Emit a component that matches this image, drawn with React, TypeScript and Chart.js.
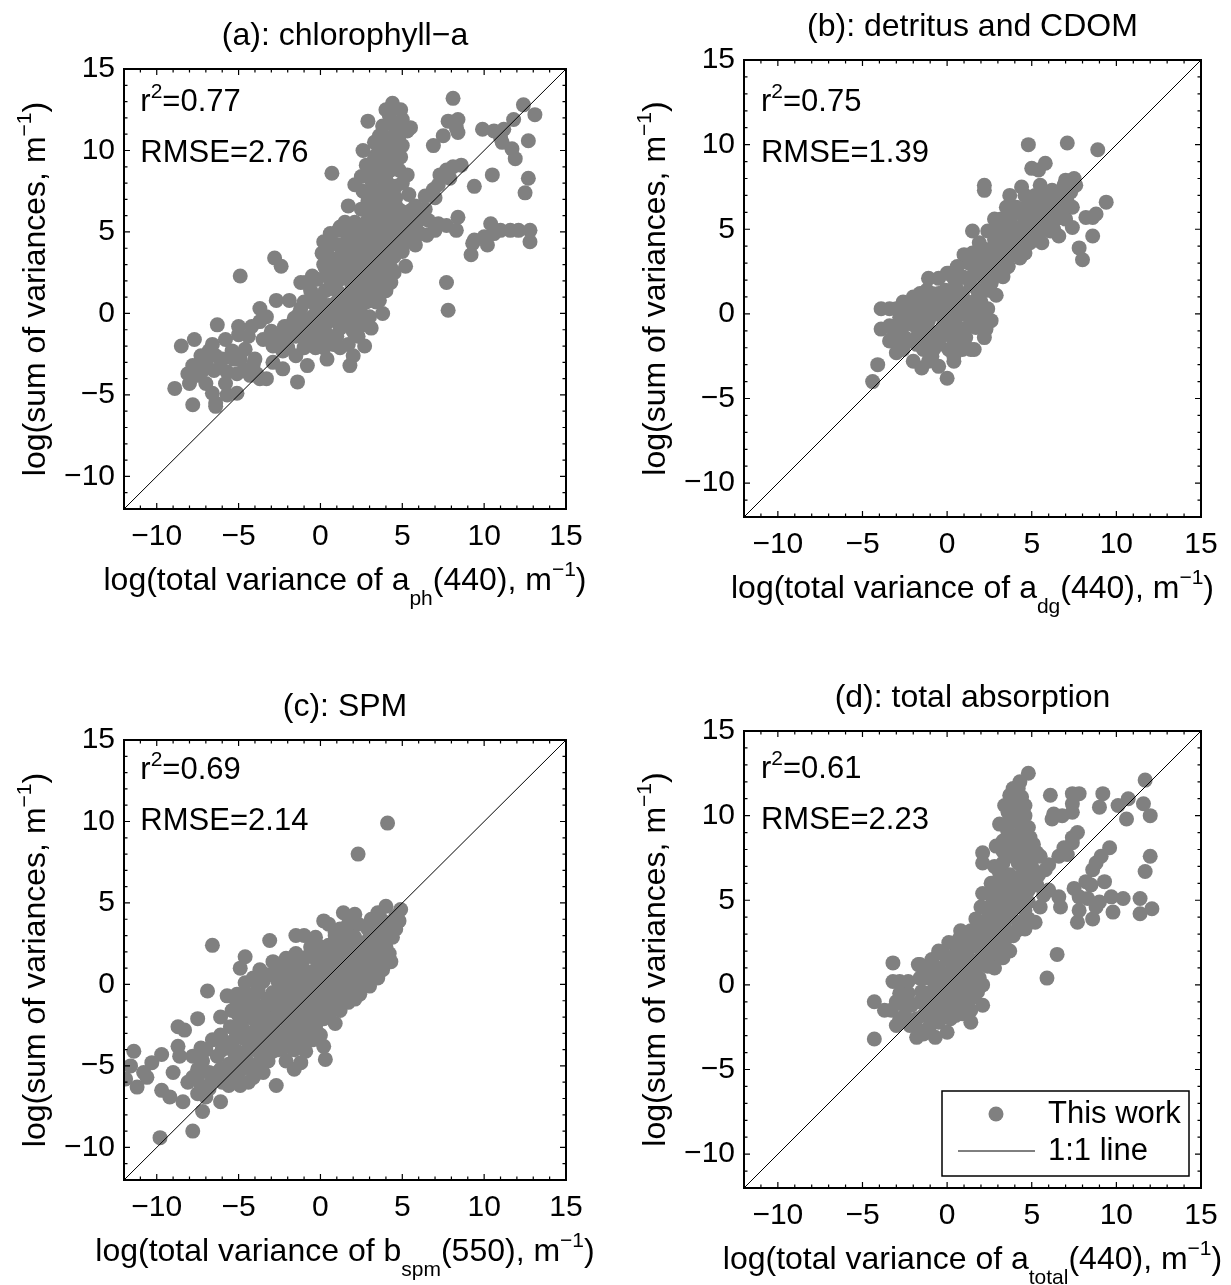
import React, { useEffect, useRef } from 'react';
import { Chart, registerables } from 'chart.js';

Chart.register(...registerables);

// ---------------- data ----------------
const AXIS_MIN = -12;
const AXIS_MAX = 15;
const TICK_VALUES = [-10, -5, 0, 5, 10, 15];
const IDENTITY_LINE: [number, number][] = [[-12, -12], [15, 15]];

const TITLES = ['(a): chlorophyll\u2212a', '(b): detritus and CDOM', '(c): SPM', '(d): total absorption'];
const R2_VALUES = ['0.77', '0.75', '0.69', '0.61'];
const RMSE_VALUES = ['2.76', '1.39', '2.14', '2.23'];
const X_SYMBOLS = ['a', 'a', 'b', 'a'];
const X_SUBSCRIPTS = ['ph', 'dg', 'spm', 'total'];
const X_WAVELENGTHS = ['440', '440', '550', '440'];
const SERIES_LABEL = 'This work';
const LINE_LABEL = '1:1 line';

const POINTS_A: [number, number][] = [
  [4.4,12.9],[4.9,12.5],[4.2,12.2],[4.3,11.7],[5.0,11.9],[5.5,11.4],[4.6,11.3],[3.6,10.9],[4.2,10.8],[4.8,10.9],[5.3,11.2],[2.9,11.8],[4.4,9.9],[2.6,10.0],[4.3,8.8],[4.8,8.8],[3.6,8.8],[3.1,9.0],[2.8,9.1],[3.8,8.3],[4.6,7.8],[5.0,8.0],[2.1,7.9],[3.1,7.6],[3.2,7.0],[3.9,6.8],[4.6,7.1],[0.7,8.6],[6.0,5.9],
  [8.1,13.2],[7.8,11.8],[8.4,11.9],[8.3,11.4],[8.4,11.1],[7.5,10.9],[6.9,10.3],[9.9,11.3],[10.6,11.2],[11.0,10.8],[11.2,11.3],[11.8,11.9],[12.4,12.8],[13.1,12.2],[12.7,10.6],[11.1,10.5],[11.7,10.1],[11.9,9.5],[10.5,8.5],[12.7,8.3],[12.5,7.4],[9.4,7.8],[8.6,9.1],[8.1,9.0],[7.7,8.8],[7.3,8.5],[7.9,8.3],[7.2,7.9],[6.9,7.6],[6.4,7.2],[7.0,7.1],[6.4,6.4],
  [8.4,5.9],[8.3,5.1],[7.7,5.4],[7.2,5.5],[10.4,5.5],[11.0,5.1],[11.6,5.1],[10.6,4.9],[10.0,4.7],[9.4,4.5],[9.3,4.3],[9.2,3.6],[10.2,4.2],[12.1,5.1],[12.8,5.1],[12.8,4.4],[7.7,1.9],[7.8,0.2],[6.5,4.8],[7.0,5.1],
  [-8.5,-2.0],[-8.9,-4.6],[-7.8,-3.2],[-8.1,-3.7],[-7.3,-2.6],[-6.8,-2.3],[-6.6,-1.9],[-6.4,-2.6],[-7.0,-3.1],[-7.5,-3.8],[-7.8,-5.6],[-6.6,-4.9],[-6.4,-5.5],[-6.4,-5.7],[-5.7,-5.0],[-5.1,-4.9],[-6.3,-0.7],[-6.1,-3.3],[-5.7,-3.6],[-5.4,-2.3],[-5.1,-3.7],[-4.9,-2.8],[-4.6,-2.2],[-4.3,-3.8],[-5.0,-0.8],[-5.0,-1.3],[-4.9,2.3],[-4.1,-3.1],[-3.9,-3.7],[-3.7,-4.0],[-3.3,-4.0],[-3.7,0.3],[-3.3,-0.2],[-3.7,-0.5],[-2.7,-1.6],[-2.9,-2.0],[-2.3,-3.4],[-2.9,-3.0],[-2.7,0.8],[-2.8,3.4],[-2.4,2.9],[-1.9,-1.4],[-1.4,-4.2],[-1.9,0.8],[-1.2,0.3],[-0.8,-3.2],[-1.0,-1.1],[-0.8,-1.6],[-1.2,1.9],[-0.9,1.9],[-0.5,2.3],[-0.3,1.0],[-0.4,0.6],[-0.5,-0.2],[-0.3,-0.9],[-0.3,-2.1],[0.2,-1.6],
  [0.2,4.4],[0.1,3.7],[0.8,4.3],[1.1,5.1],[0.2,3.0],[0.5,2.5],[0.9,3.3],[0.9,0.1],[0.8,-1.9],[0.6,-1.4],[1.2,-0.9],[1.7,-1.9],[1.8,-3.2],[2.7,-2.0],[1.9,0.4],[2.4,0.8],[3.0,-0.2],[3.1,-0.9],[3.8,0.0],[3.0,0.9],[3.6,1.5],[4.3,1.9],[4.0,2.7],[3.2,3.5],[1.7,6.6],[1.2,5.3],[4.6,4.1],[5.0,3.8],[5.3,4.7],[5.7,5.0],[6.1,4.9],[5.2,6.1],[5.8,6.6],[4.6,6.6],[4.1,5.6],[3.6,6.1],[2.5,6.4],[2.1,5.6],[2.6,4.7],[2.1,4.2],[1.7,3.5],[1.4,2.3],[1.9,1.8],[2.1,2.5],[2.9,2.7],[3.4,2.3],[2.6,2.0],[3.1,4.7],[3.6,5.1],[4.1,4.7],[4.3,3.5],[4.6,4.7],[1.7,4.7],[1.2,4.2],[1.4,1.0],[1.1,1.3],[0.5,1.5],[0.1,0.6],[0.5,-0.2],[0.0,-0.4],[1.4,-0.2],[2.1,-0.7],[2.0,-1.1],[3.6,0.8],[2.4,3.5],[3.6,4.2],[4.8,5.3],[3.1,5.6],[3.1,6.6],[4.2,7.3],[3.5,7.2],[1.4,5.1],[2.3,5.0],
  [2.0,3.0],[2.6,3.2],[3.0,3.8],[3.5,3.0],[4.0,3.2],[2.8,1.2],[3.3,1.8],[2.2,1.3],[1.0,2.0],[0.6,0.5],[-0.2,-1.2],[1.0,-0.5],[1.5,0.5],[2.5,-0.5],[4.5,2.5],[5.2,2.9],[4.8,6.0],[3.8,6.2],[2.8,5.3],[1.8,4.0],[3.9,4.0],[5.5,5.5],[4.4,5.0],[2.4,2.2],[1.4,3.0],[-1.6,-0.3],[-2.0,-0.8],[-2.3,-2.3],[-1.5,-2.6],[-4.4,-1.4],[-3.0,-1.1],[6.6,5.7],[5.8,4.2],[2.0,-2.6],[0.4,-2.8],
  [2.8,6.3],[3.5,6.3],[4.2,6.3],[4.9,6.3],[5.5,6.3],[1.5,5.6],[2.8,5.6],[3.3,5.6],[4.0,5.6],[4.6,5.6],[5.2,5.6],[5.9,5.6],[0.6,4.9],[1.8,4.9],[2.9,4.9],[3.4,4.9],[4.0,4.9],[4.9,4.9],[5.6,4.9],[0.6,4.2],[1.5,4.2],[2.6,4.2],[3.1,4.2],[4.3,4.2],[5.0,4.2],[0.5,3.5],[1.2,3.5],[2.0,3.5],[2.7,3.5],[3.8,3.5],[4.5,3.5],[0.3,2.8],[1.0,2.8],[1.7,2.8],[2.4,2.8],[3.5,2.8],[4.3,2.8],[-0.2,2.1],[0.6,2.1],[1.2,2.1],[2.8,2.1],[3.9,2.1],[-0.6,1.4],[0.3,1.4],[1.9,1.4],[2.4,1.4],[3.1,1.4],[4.0,1.4],[-1.0,0.7],[-0.4,0.7],[1.0,0.7],[1.6,0.7],[2.2,0.7],[2.8,0.7],[3.4,0.7],[-1.3,0.0],[-0.2,0.0],[0.4,0.0],[1.1,0.0],[1.9,0.0],[2.5,0.0],[-1.6,-0.7],[-0.9,-0.7],[-0.4,-0.7],[0.3,-0.7],[1.6,-0.7],[2.6,-0.7],[-2.4,-1.4],[-1.5,-1.4],[-0.1,-1.4],[1.0,-1.4],[2.3,-1.4],[-2.0,-2.1],[-1.0,-2.1],[0.2,-2.1],[1.2,-2.1],[2.6,7.5],[3.8,7.5],[4.4,7.5],[3.1,8.2],[4.0,8.2],[3.3,9.5],[4.0,9.5],
  [-4.0,-2.8],[-5.3,-2.8],[-6.0,-2.8],[-7.0,-2.8],[-4.7,-3.5],[-6.5,-3.5],[-7.2,-3.5],[-5.8,-4.3],[-8.0,-4.3],[-7.0,-4.3],[-3.5,-1.6],[-5.8,-1.6],[-7.7,-1.6],[-4.2,-0.8],[-2.2,-0.8],
  [3.3,10.5],[3.9,10.2],[4.5,10.3],[3.4,9.7],[4.9,9.6],[3.9,9.3],[4.5,9.2],[3.4,8.6],[2.5,8.4],[4.2,7.9],[3.7,7.6],[2.9,6.9],[5.4,7.3],[5.3,8.5],[4.0,12.5],[3.8,11.5],[5.0,10.3]
];

const POINTS_B: [number, number][] = [
  [4.8,10.0],[7.1,10.1],[8.9,9.7],[5.0,8.6],[5.4,8.5],[5.8,8.9],[2.2,7.6],[2.2,7.3],[4.4,7.5],[5.5,7.6],[3.7,7.0],[7.0,7.9],[7.5,8.0],[6.9,7.6],[7.6,7.6],[6.5,7.1],[6.1,6.6],[9.4,6.6],[8.8,5.9],[8.2,5.7],[8.6,5.7],[7.4,5.1],[8.6,4.6],[6.6,4.6],[7.8,3.9],[8.0,3.2],[6.0,5.9],[5.5,5.5],[5.1,5.8],[4.6,5.5],[4.2,5.1],[3.7,5.5],[3.2,5.6],[4.8,6.4],[5.3,6.6],[6.5,6.4],[6.9,6.2],[5.8,5.0],[5.1,4.7],[4.7,4.2],[4.3,3.3],[3.3,4.5],[2.8,4.4],[2.8,4.0],[2.3,3.8],[1.5,4.9],[2.5,3.1],[3.2,3.6],[3.7,4.0],[3.9,4.7],[3.3,2.2],[2.9,1.1],[2.3,1.4],[2.1,2.2],[1.3,3.0],[1.9,3.0],[1.6,2.4],[0.9,2.2],[0.1,2.4],[0.5,1.7],[0.9,1.2],[1.4,1.7],[1.7,0.8],[2.4,0.3],[2.2,-0.2],[1.7,-0.8],[1.3,-0.2],[0.9,-0.9],[0.5,-0.6],[0.7,-1.6],[1.4,-2.1],[2.3,-0.9],[2.2,-1.4],[1.6,-2.1],[0.4,-2.8],[0.4,-2.5],[0.0,-3.8],[-0.5,-3.1],[-0.9,-2.5],[-1.5,-3.2],[-0.9,-1.8],[-0.6,-1.1],[-0.2,-0.6],[0.0,-0.2],[0.2,0.3],[-0.2,0.8],[-0.5,1.2],[0.0,2.4],[-1.1,2.1],[-0.9,1.2],[-1.6,1.2],[-2.0,1.0],[-1.8,0.5],[-1.4,0.1],[-0.9,0.1],[-1.1,-0.4],[-1.6,-0.6],[-2.1,-0.6],[-1.1,-1.4],[-1.4,-2.1],[-1.8,-1.8],[-2.3,-1.6],[-2.8,-1.6],[-3.2,-1.4],[-3.4,-1.6],[-3.0,-2.3],[-2.8,-0.2],[-3.0,0.3],[-3.4,0.3],[-3.9,0.3],[-3.0,-0.8],[-3.9,-0.9],[-4.1,-3.0],[-4.4,-4.0],[-2.3,0.3],[-0.8,-1.4],[-0.5,-1.8],[0.6,-0.1],[0.9,0.3],[1.5,0.3],[2.7,2.2],[3.5,3.1],[2.9,2.6],[0.9,0.9],[0.5,0.8],[3.9,5.9],[4.4,6.2],[5.1,6.7],[5.7,7.0],[6.2,7.3],[6.6,6.7],[5.8,6.3],[7.1,6.6],[6.7,5.7],[6.0,5.5],[4.0,4.0],[4.6,3.6],[1.5,3.6],[2.3,2.4],
  [3.0,3.2],[3.6,2.8],[4.2,4.6],[2.6,1.8],[1.2,0.6],[0.2,-1.2],[-0.4,0.2],[1.8,1.4],[3.4,5.0],[6.3,5.0],[5.4,4.4],[4.9,5.2],[-1.2,-0.9],[1.0,-1.3],[2.6,-0.4],[2.0,3.4],[7.3,7.2],
  [4.6,7.0],[5.2,7.0],[6.0,7.0],[6.8,7.0],[3.5,6.3],[4.1,6.3],[5.6,6.3],[6.2,6.3],[7.4,6.3],[2.8,5.6],[4.9,5.6],[5.6,5.6],[6.4,5.6],[7.0,5.6],[2.4,4.9],[3.0,4.9],[4.4,4.9],[5.4,4.9],[6.1,4.9],[1.9,4.2],[3.6,4.2],[4.9,4.2],[5.6,4.2],[1.0,3.5],[2.6,3.5],[3.9,3.5],[4.3,3.5],[0.6,2.8],[2.2,2.8],[2.8,2.8],[3.6,2.8],[-0.5,2.1],[0.4,2.1],[1.2,2.1],[2.7,2.1],[-1.2,1.4],[-0.1,1.4],[0.5,1.4],[1.8,1.4],[2.5,1.4],[-2.6,0.7],[-1.2,0.7],[-0.5,0.7],[0.3,0.7],[1.2,0.7],[2.0,0.7],[-2.5,0.0],[-1.9,0.0],[-0.6,0.0],[0.6,0.0],[1.0,0.0],[1.9,0.0],[-3.4,-0.7],[-2.6,-0.7],[-1.9,-0.7],[-0.2,-0.7],[0.4,-0.7],[1.5,-0.7],[-2.5,-1.4],[-1.8,-1.4],[-0.4,-1.4],[0.3,-1.4],[1.1,-1.4],[-2.6,-2.1],[-0.8,-2.1],[0.1,-2.1],[0.9,-2.1],[-2.0,-2.8],[-1.1,-2.8]
];

const POINTS_C: [number, number][] = [
  [4.1,9.9],[2.3,8.0],[4.0,4.8],[4.9,4.6],[4.6,4.2],[3.5,4.4],[2.1,4.3],[3.1,4.0],[3.8,3.9],[4.3,3.7],[4.4,2.9],[4.2,1.9],[3.6,3.4],[2.9,3.4],[2.3,3.7],[1.7,3.7],[1.2,3.4],[0.5,3.7],[0.2,3.9],[0.9,3.2],[1.4,2.9],[2.1,2.9],[2.9,2.7],[3.4,2.4],[3.8,2.4],[3.2,1.7],[2.6,1.9],[1.9,2.2],[1.2,2.4],[0.5,2.4],[-0.3,2.9],[-1.0,3.0],[-1.5,3.0],[-3.1,2.7],[-6.6,2.4],[-0.3,1.8],[-0.8,1.7],[-1.2,1.2],[-1.7,0.9],[-2.2,0.9],[-2.9,1.4],[-3.2,0.6],[-4.6,1.7],[-4.9,1.0],[-3.8,-0.2],[0.2,1.2],[0.9,1.4],[1.7,1.2],[2.1,0.9],[2.9,1.2],[3.5,0.4],[3.0,-0.1],[2.3,0.1],[1.7,0.4],[0.9,0.1],[0.2,-0.1],[-0.3,0.1],[-0.8,0.4],[-1.2,0.1],[-1.7,-0.1],[-2.2,-0.4],[-2.7,-0.6],[-3.2,-0.9],[-2.2,-1.1],[-1.5,-0.9],[-0.8,-0.6],[-0.3,-0.9],[0.5,-0.9],[1.2,-0.6],[1.7,-1.1],[1.2,-1.6],[0.9,-2.4],[0.2,-2.1],[-0.3,-1.6],[-0.8,-1.9],[-1.2,-1.6],[-1.7,-1.9],[-2.2,-2.1],[-2.7,-1.9],[-3.2,-2.1],[-3.7,-2.4],[-4.1,-2.1],[-4.6,-1.6],[-5.1,-1.1],[-5.7,-0.7],[-5.1,-0.6],[-6.9,-0.4],[-4.1,-0.9],[-3.7,-1.4],[-5.4,-1.6],[-6.1,-2.0],[-7.5,-2.1],[-8.7,-2.6],[-8.3,-2.8],[-8.7,-3.8],[-8.6,-4.4],[-9.0,-5.4],[-9.7,-4.3],[-10.3,-4.8],[-11.4,-4.1],[-11.6,-5.0],[-11.9,-5.8],[-11.2,-6.3],[-10.8,-5.4],[-10.6,-5.7],[-9.7,-6.5],[-9.2,-6.9],[-9.8,-9.4],[-8.4,-7.2],[-7.8,-5.7],[-7.5,-5.2],[-7.8,-4.4],[-7.3,-3.9],[-6.8,-5.4],[-7.3,-6.2],[-7.5,-6.7],[-7.2,-7.8],[-7.8,-9.0],[-7.0,-6.9],[-6.8,-6.4],[-6.1,-7.2],[-6.6,-5.9],[-6.1,-5.2],[-6.3,-4.4],[-6.6,-3.4],[-6.1,-3.1],[-5.6,-3.6],[-5.1,-4.1],[-5.6,-4.9],[-5.1,-5.7],[-5.6,-6.2],[-4.9,-6.2],[-4.1,-5.7],[-4.1,-5.2],[-4.6,-4.7],[-4.4,-3.9],[-3.9,-3.4],[-3.7,-4.1],[-3.2,-4.7],[-3.7,-5.2],[-2.7,-6.2],[-2.9,-4.1],[-2.7,-3.1],[-2.9,-2.6],[-2.2,-2.9],[-1.7,-3.1],[-1.2,-2.6],[-2.3,-3.9],[-2.0,-3.8],[-1.2,-3.6],[-0.5,-3.4],[0.2,-3.8],[0.3,-4.6],[-0.9,-4.1],[-1.6,-5.2],[-1.2,-4.8],[-1.7,-2.4],[-1.2,-2.9],[-0.8,-2.4],[-0.3,-2.6],[0.0,-3.1],[1.9,-0.6],[2.4,-0.6],[3.1,0.3],[3.8,0.9],[4.3,1.4],[4.6,3.4],[4.8,3.9],[0.2,1.9],[0.7,1.9],[1.2,1.7],[-1.5,1.9],[-2.7,1.2],[-3.7,0.9],[-4.1,0.4],[-4.6,0.1],[2.1,-0.9],[0.7,-1.1],[1.4,-0.1],[3.6,4.2],[1.4,4.4],
  [-2.5,-1.5],[-1.9,-0.5],[-1.0,-0.2],[0.0,0.6],[0.6,0.8],[1.0,2.8],[2.6,2.4],[3.3,3.0],[2.5,1.4],[1.5,0.8],[-0.5,-0.3],[-3.5,-2.9],[-4.3,-3.0],[-5.0,-3.0],[-4.8,-5.2],[-5.8,-5.4],[-3.0,-3.5],[-2.0,-2.4],[-1.0,-1.4],[0.4,-0.4],[3.9,3.2],[2.7,0.8],
  [0.9,3.0],[1.8,3.0],[3.2,3.0],[3.9,3.0],[-0.6,2.3],[0.0,2.3],[1.6,2.3],[2.3,2.3],[3.0,2.3],[4.0,2.3],[-2.1,1.6],[-1.4,1.6],[-0.3,1.6],[0.5,1.6],[2.0,1.6],[2.8,1.6],[3.6,1.6],[-2.6,0.9],[-1.0,0.9],[-0.3,0.9],[0.5,0.9],[1.2,0.9],[2.5,0.9],[3.3,0.9],[-3.5,0.2],[-2.6,0.2],[-2.0,0.2],[-1.4,0.2],[0.5,0.2],[1.2,0.2],[2.0,0.2],[2.7,0.2],[-4.6,-0.5],[-3.8,-0.5],[-2.9,-0.5],[-2.0,-0.5],[-1.1,-0.5],[-0.1,-0.5],[0.8,-0.5],[1.6,-0.5],[-4.8,-1.2],[-4.1,-1.2],[-3.0,-1.2],[-1.9,-1.2],[-0.8,-1.2],[0.2,-1.2],[0.9,-1.2],[-5.0,-1.9],[-4.4,-1.9],[-3.4,-1.9],[-2.4,-1.9],[-1.4,-1.9],[-0.4,-1.9],[0.5,-1.9],[-5.5,-2.6],[-4.8,-2.6],[-3.9,-2.6],[-3.3,-2.6],[-2.0,-2.6],[-0.9,-2.6],[-6.1,-3.3],[-5.2,-3.3],[-4.7,-3.3],[-3.3,-3.3],[-2.4,-3.3],[-1.8,-3.3],[-0.8,-3.3],[-7.0,-4.0],[-6.0,-4.0],[-5.4,-4.0],[-4.0,-4.0],[-3.2,-4.0],[-2.6,-4.0],[-1.6,-4.0],[-7.2,-4.7],[-5.3,-4.7],[-4.5,-4.7],[-3.7,-4.7],[-2.1,-4.7],[-7.3,-5.4],[-6.3,-5.4],[-5.0,-5.4],[-3.5,-5.4],[-8.1,-6.0],[-6.0,-6.0],[-4.4,-6.0]
];

const POINTS_D: [number, number][] = [
  [4.8,12.5],[4.2,11.6],[3.7,11.2],[3.9,10.9],[4.4,11.1],[4.6,10.6],[3.6,10.2],[3.7,9.6],[4.2,10.0],[4.6,10.0],[4.8,9.3],[3.6,9.0],[3.3,8.5],[4.0,8.8],[4.4,8.3],[5.1,8.3],[5.3,7.8],[3.9,7.8],[4.2,7.2],[3.3,7.2],[2.8,7.0],[2.9,8.2],[2.1,7.8],[2.1,7.2],[3.7,6.5],[4.6,6.7],[5.1,6.2],[5.4,6.5],[6.0,7.1],[6.6,7.6],[7.1,7.7],[7.4,8.4],[7.7,9.0],[7.4,8.7],[6.9,8.1],[6.2,9.8],[6.1,11.2],[7.4,11.3],[7.8,11.3],[7.4,10.7],[7.4,10.2],[6.3,10.1],[6.8,10.0],[9.0,10.5],[9.2,11.3],[10.1,10.6],[10.7,11.0],[10.6,9.8],[11.7,12.1],[11.6,10.7],[12.0,10.0],[12.0,7.6],[11.7,6.7],[9.6,8.1],[9.1,7.6],[8.8,7.2],[8.6,6.8],[9.3,6.1],[8.5,5.9],[8.2,6.1],[7.5,5.7],[7.8,5.2],[8.3,5.1],[9.0,4.9],[9.7,5.2],[10.4,5.1],[8.8,4.6],[7.8,4.4],[9.8,4.3],[8.6,3.9],[7.7,3.7],[11.4,5.1],[12.1,4.5],[11.4,4.2],[6.6,5.2],[6.7,4.6],[6.0,5.6],[5.3,5.9],[5.2,3.7],[4.6,3.3],[6.5,1.8],[5.9,0.4],[3.3,1.6],[2.1,5.4],[3.7,5.6],[3.9,4.9],[3.7,4.3],[3.2,3.7],[2.8,3.4],[2.3,3.2],[2.1,2.7],[2.5,2.4],[3.0,2.9],[1.9,2.2],[1.4,2.4],[0.9,2.0],[0.5,1.7],[0.9,1.5],[1.4,1.2],[1.9,1.5],[2.3,1.7],[-0.5,2.0],[0.0,1.5],[-0.5,1.0],[-0.9,1.0],[-1.6,1.2],[-0.9,0.5],[-0.2,0.5],[0.5,0.7],[1.2,0.5],[1.6,0.2],[2.1,0.0],[1.4,-0.2],[0.7,0.0],[0.0,-0.2],[-0.7,0.0],[-1.1,-0.5],[-0.5,-0.7],[0.2,-1.0],[0.9,-0.7],[1.6,-0.7],[2.1,-1.2],[1.4,-1.5],[0.5,-1.5],[-0.2,-1.5],[-0.9,-1.2],[-1.6,-1.0],[-2.1,-1.2],[-2.3,-0.5],[-1.8,-2.0],[-1.1,-1.7],[-0.5,-2.2],[0.2,-2.0],[0.9,-1.7],[1.4,-2.2],[0.0,-2.8],[-0.7,-3.1],[-1.4,-2.9],[-1.6,-2.7],[-1.8,-3.1],[-2.3,-2.2],[-2.8,-2.0],[-3.0,-2.4],[-3.3,-1.5],[-3.0,-1.0],[-3.2,0.2],[-2.8,0.2],[-2.3,0.2],[-3.2,1.3],[-1.7,1.2],[-0.9,1.5],[-4.3,-1.0],[-3.7,-1.5],[-4.3,-3.2],[-2.8,-0.5],[2.8,1.0],[3.7,2.0],[3.9,2.9],[4.2,3.7],[4.6,4.4],[4.8,4.9],[4.4,5.4],[4.8,5.6],[3.5,6.1],[3.0,5.4],[2.5,4.6],[2.1,3.7],[1.4,3.2],[0.7,2.7],[0.5,2.4],[5.5,7.6],[5.8,6.8],[4.8,7.3],[3.1,9.5],[3.8,8.2],
  [3.0,4.2],[3.5,5.0],[4.1,6.0],[2.6,4.0],[1.6,1.0],[1.0,0.0],[-0.3,-0.9],[2.4,2.0],[3.4,2.6],[4.3,6.4],[5.0,7.0],[-1.3,0.4],[0.3,0.9],
  [2.6,6.0],[3.1,6.0],[4.7,6.0],[2.6,5.3],[3.3,5.3],[4.1,5.3],[5.7,5.3],[2.0,4.6],[2.9,4.6],[3.4,4.6],[4.1,4.6],[5.5,4.6],[1.7,3.9],[2.4,3.9],[3.0,3.9],[3.5,3.9],[4.8,3.9],[0.8,3.2],[1.8,3.2],[2.6,3.2],[3.5,3.2],[4.1,3.2],[0.1,2.5],[1.0,2.5],[1.8,2.5],[2.8,2.5],[3.3,2.5],[-0.2,1.8],[0.5,1.8],[1.2,1.8],[2.6,1.8],[3.0,1.8],[-1.2,1.1],[0.4,1.1],[1.1,1.1],[1.8,1.1],[2.4,1.1],[-1.6,0.4],[-0.5,0.4],[0.2,0.4],[0.9,0.4],[1.9,0.4],[-1.5,-0.4],[-0.9,-0.4],[0.3,-0.4],[1.2,-0.4],[1.8,-0.4],[-2.7,-1.1],[-1.3,-1.1],[0.0,-1.1],[0.6,-1.1],[1.2,-1.1],[-2.5,-1.8],[-1.4,-1.8],[-0.8,-1.8],[0.5,-1.8],[-2.2,-2.4],[-1.0,-2.4],[3.9,8.8],[4.5,8.8],[3.9,9.9],[3.6,7.6],[4.6,7.6],
  [3.4,10.6],[4.1,10.4],[3.5,9.3],[4.3,9.5],[3.3,7.9],[4.5,7.8],[3.1,6.6],[4.9,8.7],[3.9,11.6],[4.3,12.0]
];

const PANEL_POINTS = [POINTS_A, POINTS_B, POINTS_C, POINTS_D];

// ---------------- layout & style ----------------
const FAMILY = "'Liberation Sans', Arial, Helvetica, sans-serif";
const GRAY = '#808080';
const LABEL_SIZE = 32;
const NOTE_SIZE = 31;
const SMALL_SIZE = 21;
const TICK_SIZE = 30;
const POINT_RADIUS = 7.5;
const M_LEFT = 120, M_TOP = 58, M_RIGHT = 28, M_BOTTOM = 112;

type Layout = { left: number; top: number; w: number; h: number; r2Y: number; rmseY: number; legend: boolean };
const LAYOUTS: Layout[] = [
  { left: 124, top: 69, w: 442, h: 440, r2Y: 12.4, rmseY: 9.3, legend: false },
  { left: 744, top: 60, w: 457, h: 457, r2Y: 12.0, rmseY: 9.0, legend: false },
  { left: 124, top: 740, w: 442, h: 440, r2Y: 12.6, rmseY: 9.5, legend: false },
  { left: 744, top: 731, w: 457, h: 457, r2Y: 12.2, rmseY: 9.2, legend: true },
];

type Seg = { t: string; k?: 'sub' | 'sup' };
type RichOpts = { align: 'left' | 'center'; size: number; rotate?: number; supDy?: number; subDy?: number };

function drawRich(ctx: any, segs: Seg[], x: number, y: number, o: RichOpts) {
  const supDy = o.supDy ?? 14;
  const subDy = o.subDy ?? 15;
  ctx.save();
  ctx.translate(x, y);
  if (o.rotate) ctx.rotate(o.rotate);
  ctx.fillStyle = '#000';
  ctx.textBaseline = 'alphabetic';
  ctx.textAlign = 'left';
  const fontOf = (s: Seg) => `${s.k ? SMALL_SIZE : o.size}px ${FAMILY}`;
  const widths = segs.map((s) => {
    ctx.font = fontOf(s);
    return ctx.measureText(s.t).width;
  });
  const total = widths.reduce((a, b) => a + b, 0);
  let cx = o.align === 'center' ? -total / 2 : 0;
  segs.forEach((s, i) => {
    ctx.font = fontOf(s);
    const dy = s.k === 'sub' ? subDy : s.k === 'sup' ? -supDy : 0;
    ctx.fillText(s.t, cx, dy);
    cx += widths[i];
  });
  ctx.restore();
}

function drawLegend(chart: any) {
  const { ctx, chartArea: a } = chart;
  const bw = 247, bh = 85;
  const left = a.right - 12 - bw;
  const top = a.bottom - 12 - bh;
  const ds = chart.data.datasets;
  ctx.save();
  ctx.fillStyle = '#fff';
  ctx.fillRect(left, top, bw, bh);
  ctx.strokeStyle = '#000';
  ctx.lineWidth = 1.5;
  ctx.strokeRect(left, top, bw, bh);
  const r1 = top + 23, r2 = top + 60;
  ctx.fillStyle = ds[0].pointBackgroundColor;
  ctx.beginPath();
  ctx.arc(left + 54, r1, ds[0].pointRadius, 0, Math.PI * 2);
  ctx.fill();
  ctx.strokeStyle = ds[1].borderColor;
  ctx.lineWidth = ds[1].borderWidth;
  ctx.beginPath();
  ctx.moveTo(left + 16, r2);
  ctx.lineTo(left + 93, r2);
  ctx.stroke();
  ctx.fillStyle = '#000';
  ctx.font = `${NOTE_SIZE}px ${FAMILY}`;
  ctx.textBaseline = 'middle';
  ctx.textAlign = 'left';
  ctx.fillText(ds[0].label, left + 106, r1);
  ctx.fillText(ds[1].label, left + 106, r2);
  ctx.restore();
}

const fmtTick = (v: any) => {
  const n = Number(v);
  return n < 0 ? '\u2212' + Math.abs(n) : String(n);
};

function Panel({ idx }: { idx: number }) {
  const ref = useRef<HTMLCanvasElement | null>(null);
  const L = LAYOUTS[idx];
  const W = M_LEFT + L.w + M_RIGHT;
  const H = M_TOP + L.h + M_BOTTOM;

  useEffect(() => {
    const canvas = ref.current;
    if (!canvas) return;

    const framePlugin = {
      id: 'matlabFrame' + idx,
      afterDatasetsDraw(chart: any) {
        const { ctx, chartArea: a, scales } = chart;
        const xs = scales.x, ys = scales.y;
        ctx.save();
        ctx.strokeStyle = '#000';
        ctx.lineWidth = 1.2;
        ctx.beginPath();
        for (let v = AXIS_MIN; v <= AXIS_MAX; v++) {
          const len = v % 5 === 0 ? 6 : 3.5;
          const px = xs.getPixelForValue(v);
          ctx.moveTo(px, a.bottom); ctx.lineTo(px, a.bottom - len);
          ctx.moveTo(px, a.top); ctx.lineTo(px, a.top + len);
          const py = ys.getPixelForValue(v);
          ctx.moveTo(a.left, py); ctx.lineTo(a.left + len, py);
          ctx.moveTo(a.right, py); ctx.lineTo(a.right - len, py);
        }
        ctx.stroke();
        ctx.lineWidth = 2;
        ctx.strokeRect(a.left, a.top, a.right - a.left, a.bottom - a.top);
        ctx.restore();
      },
    };

    const textPlugin = {
      id: 'matlabText' + idx,
      afterDraw(chart: any) {
        const { ctx, chartArea: a, scales } = chart;
        const xs = scales.x, ys = scales.y;
        const cx = (a.left + a.right) / 2;
        const cy = (a.top + a.bottom) / 2;
        drawRich(ctx, [{ t: TITLES[idx] }], cx, a.top - 24, { align: 'center', size: LABEL_SIZE });
        drawRich(ctx, [
          { t: `log(total variance of ${X_SYMBOLS[idx]}` },
          { t: X_SUBSCRIPTS[idx], k: 'sub' },
          { t: `(${X_WAVELENGTHS[idx]}), m` },
          { t: '\u22121', k: 'sup' },
          { t: ')' },
        ], cx, a.bottom + 81, { align: 'center', size: LABEL_SIZE });
        drawRich(ctx, [
          { t: 'log(sum of variances, m' },
          { t: '\u22121', k: 'sup' },
          { t: ')' },
        ], a.left - 79, cy, { align: 'center', size: LABEL_SIZE, rotate: -Math.PI / 2 });
        const tx = xs.getPixelForValue(-11);
        drawRich(ctx, [{ t: 'r' }, { t: '2', k: 'sup' }, { t: '=' + R2_VALUES[idx] }], tx, ys.getPixelForValue(L.r2Y), { align: 'left', size: NOTE_SIZE, supDy: 13 });
        drawRich(ctx, [{ t: 'RMSE=' + RMSE_VALUES[idx] }], tx, ys.getPixelForValue(L.rmseY), { align: 'left', size: NOTE_SIZE });
        if (L.legend) drawLegend(chart);
      },
    };

    const axisCommon = (padding: number) => ({
      type: 'linear' as const,
      min: AXIS_MIN,
      max: AXIS_MAX,
      grid: { display: false, drawTicks: false },
      border: { display: false },
      ticks: {
        font: { size: TICK_SIZE, family: FAMILY },
        color: '#000',
        padding,
        maxRotation: 0,
        autoSkip: false,
        callback: fmtTick,
      },
      afterBuildTicks: (ax: any) => {
        ax.ticks = TICK_VALUES.map((v) => ({ value: v }));
      },
    });

    const chart = new Chart(canvas, {
      type: 'scatter',
      data: {
        datasets: [
          {
            label: SERIES_LABEL,
            data: PANEL_POINTS[idx].map(([x, y]) => ({ x, y })),
            pointBackgroundColor: GRAY,
            pointBorderColor: GRAY,
            backgroundColor: GRAY,
            borderColor: GRAY,
            pointBorderWidth: 0,
            pointRadius: POINT_RADIUS,
            pointHoverRadius: POINT_RADIUS,
            showLine: false,
            order: 1,
          } as any,
          {
            label: LINE_LABEL,
            data: IDENTITY_LINE.map(([x, y]) => ({ x, y })),
            borderColor: '#000',
            backgroundColor: '#000',
            borderWidth: 1,
            pointRadius: 0,
            pointHoverRadius: 0,
            showLine: true,
            fill: false,
            order: 0,
          } as any,
        ],
      },
      options: {
        animation: false,
        responsive: false,
        devicePixelRatio: 1,
        events: [],
        layout: { padding: { left: M_LEFT - 100, top: M_TOP, right: M_RIGHT, bottom: 0 } },
        plugins: {
          legend: { display: false },
          tooltip: { enabled: false },
          title: { display: false },
        },
        scales: {
          x: {
            ...axisCommon(10),
            position: 'bottom',
            afterFit: (ax: any) => { ax.height = M_BOTTOM; },
          } as any,
          y: {
            ...axisCommon(9),
            position: 'left',
            afterFit: (ax: any) => { ax.width = 100; },
          } as any,
        },
      },
      plugins: [framePlugin, textPlugin],
    });
    return () => chart.destroy();
  }, [idx]);

  return (
    <canvas
      ref={ref}
      width={W}
      height={H}
      style={{ position: 'absolute', left: L.left - M_LEFT, top: L.top - M_TOP, width: W, height: H }}
    />
  );
}

export default function App() {
  return (
    <div style={{ position: 'absolute', left: 0, top: 0, width: 1231, height: 1285, overflow: 'hidden', background: '#fff' }}>
      {[0, 1, 2, 3].map((i) => (
        <Panel key={i} idx={i} />
      ))}
    </div>
  );
}
